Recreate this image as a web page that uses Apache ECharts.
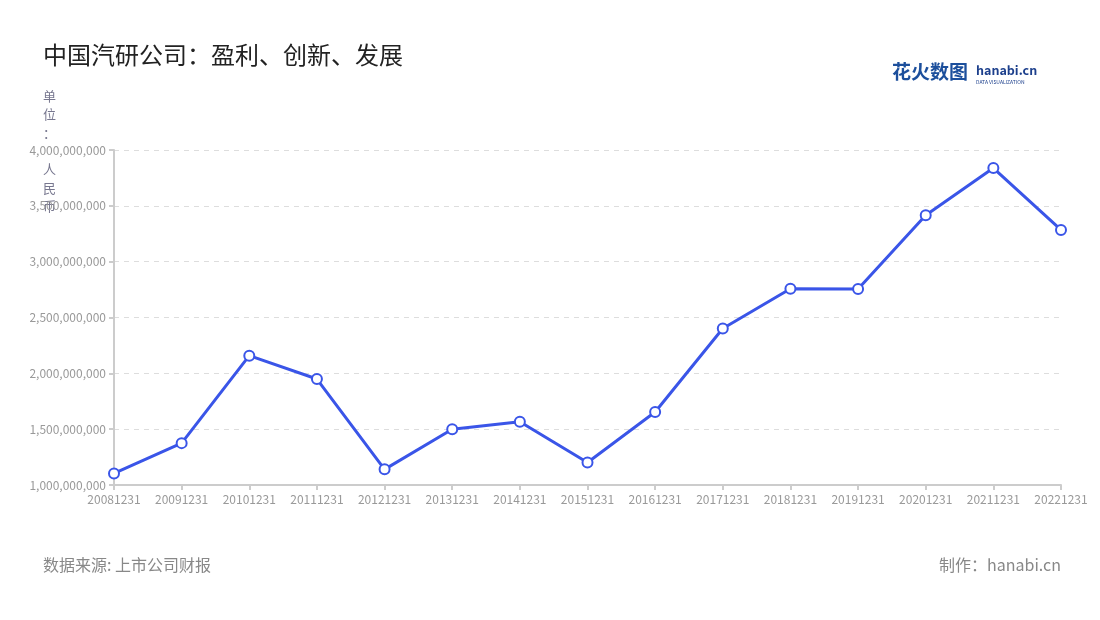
<!DOCTYPE html>
<html>
<head>
<meta charset="utf-8">
<script src="https://cdn.jsdelivr.net/npm/echarts@6/dist/echarts.min.js"></script>
<style>html,body{margin:0;padding:0;background:#fff}#c{width:1100px;height:620px}</style>
</head>
<body>
<div id="c"></div>
<script>
const categories = ['20081231','20091231','20101231','20111231','20121231','20131231','20141231','20151231','20161231','20171231','20181231','20191231','20201231','20211231','20221231'];
const profit = [1104000000,1375000000,2158000000,1949000000,1140000000,1500000000,1566000000,1201000000,1654000000,2401000000,2758000000,2755000000,3416000000,3838000000,3284000000];
const yTicks = { min: 1000000000, max: 4000000000, interval: 500000000 };

const font = '"Noto Sans CJK SC","Noto Sans",sans-serif';
const chart = echarts.init(document.getElementById('c'));
chart.setOption({
  backgroundColor: '#fff',
  animation: false,
  textStyle: { fontFamily: font },
  title: {
    text: '中国汽研公司：盈利、创新、发展',
    left: 38, top: 38,
    textStyle: { fontSize: 24, fontWeight: 'normal', color: '#222', fontFamily: font }
  },
  grid: { left: 114, right: 39, top: 150, bottom: 135 },
  xAxis: {
    type: 'category',
    data: categories,
    boundaryGap: false,
    axisLine: { lineStyle: { color: '#ccc', width: 2 } },
    axisTick: { show: true, interval: 0, lineStyle: { color: '#ccc', width: 2 } },
    axisLabel: { color: '#999', fontSize: 12, margin: 8, interval: 0, fontFamily: font }
  },
  yAxis: {
    type: 'value',
    min: yTicks.min, max: yTicks.max, interval: yTicks.interval,
    axisLine: { show: true, lineStyle: { color: '#ccc', width: 2 } },
    axisTick: { show: true, lineStyle: { color: '#ccc', width: 2 } },
    axisLabel: {
      color: '#999', fontSize: 12, margin: 8, fontFamily: font,
      formatter: v => v.toLocaleString('en-US')
    },
    splitLine: { lineStyle: { color: '#ddd', type: [5, 5] } }
  },
  series: [{
    type: 'line',
    data: profit,
    symbol: 'emptyCircle',
    symbolSize: 10,
    lineStyle: { color: '#3a55e8', width: 3 },
    itemStyle: { color: '#3a55e8', borderWidth: 2 }
  }],
  graphic: [
    {
      type: 'text', left: 43, top: 87,
      style: {
        text: '单\n位\n：\n \n人\n民\n币',
        fill: '#77778f', font: '13px ' + font, lineHeight: 18.3, align: 'left'
      }
    },
    {
      type: 'text', left: 892, top: 62,
      style: { text: '花火数图', fill: '#1c4f9c', font: 'bold 19px ' + font }
    },
    {
      type: 'text', left: 976, top: 64,
      style: { text: 'hanabi.cn', fill: '#1c3f8c', font: 'bold 12.5px ' + font }
    },
    {
      type: 'text', left: 976, top: 80,
      style: { text: 'DATA VISUALIZATION', fill: '#1c3f8c', font: '5px ' + font }
    },
    {
      type: 'text', left: 43, top: 557,
      style: { text: '数据来源: 上市公司财报', fill: '#888', font: '16px ' + font }
    },
    {
      type: 'text', right: 39, top: 557,
      style: { text: '制作：hanabi.cn', fill: '#888', font: '16px ' + font }
    }
  ]
});
</script>
</body>
</html>
